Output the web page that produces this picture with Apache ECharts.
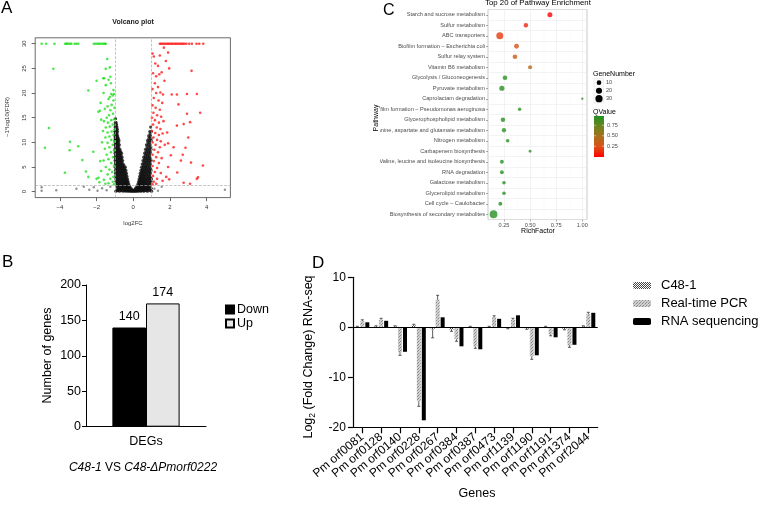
<!DOCTYPE html>
<html><head><meta charset="utf-8">
<script src="https://cdn.jsdelivr.net/npm/echarts@6/dist/echarts.min.js"></script>
<style>
html,body{margin:0;padding:0;background:#fff;width:760px;height:509px;overflow:hidden}
.p{position:absolute}
</style></head><body>
<div id="a" class="p" style="left:0;top:0;width:380px;height:240px"></div>
<div id="c" class="p" style="left:380px;top:0;width:380px;height:245px"></div>
<div id="b" class="p" style="left:0;top:240px;width:300px;height:269px"></div>
<div id="d" class="p" style="left:300px;top:240px;width:460px;height:269px"></div>
<script>
const F = "'Liberation Sans', Arial, sans-serif";

// ---------- Panel A: volcano ----------
const volcanoXTicks = [-4, -2, 0, 2, 4];
const volcanoYTicks = [0, 5, 10, 15, 20, 25, 30];
const greenPts = [
  [-5.0,30],[-4.75,30],[-4.3,30],[-3.72,30],[-3.65,30],[-3.6,30],[-3.55,30],[-3.45,30],[-3.38,30],[-3.2,30],[-3.1,30],[-3.0,30],
  [-2.15,30],[-2.05,30],[-1.95,30],[-1.88,30],[-1.8,30],[-1.7,30],[-1.62,30],[-1.55,30],[-1.5,30],
  [-4.36,24.9],[-4.6,12.9],[-4.82,8.9],[-3.45,10.1],[-3.47,8.4],[-3.0,9.2],[-2.45,20.5],[-2.78,6.4],[-2.58,4.1],[-3.73,3.85],
  [-2.45,3.0],[-2.18,8.1],[-2.0,22.5],[-1.42,26.9],[-1.5,24.9],[-1.64,23.0],[-1.25,23.3],[-1.82,16.4],[-1.8,6.2],[-2.0,2.6],
  [-1.05,19.8],[-1.12,19.5],[-1.2,19.8],[-1.28,19.2],[-1.08,18.5],[-1.35,18.8],[-1.18,17.6],[-1.4,17.3],[-1.02,17.0],[-1.25,16.5],
  [-1.55,16.8],[-1.1,15.8],[-1.32,15.5],[-1.45,15.0],[-1.05,14.7],[-1.2,14.5],[-1.6,14.3],[-1.38,14.0],[-1.75,14.6],[-1.12,13.6],
  [-1.28,13.2],[-1.5,13.0],[-1.02,12.6],[-1.18,12.2],[-1.4,12.0],[-1.65,12.3],[-1.08,11.5],[-1.3,11.2],[-1.52,11.0],[-1.2,10.5],
  [-1.02,10.2],[-1.4,9.9],[-1.7,10.0],[-1.12,9.5],[-1.3,9.0],[-1.55,8.7],[-1.05,8.4],[-1.22,8.0],[-1.45,7.5],[-1.1,7.0],
  [-1.35,6.6],[-1.62,6.3],[-1.2,5.8],[-1.05,5.2],[-1.5,5.0],[-1.3,4.5],[-1.15,4.0],[-1.75,4.2],[-1.4,3.5],[-1.08,3.0],
  [-1.25,2.6],[-1.6,2.4],[-1.9,2.8],[-1.12,2.0],[-1.35,1.7],[-1.05,1.5],[-1.52,1.6],[-1.85,1.9],[-1.22,22.0],[-1.35,22.7],
  [-1.5,21.6],[-1.08,20.6],[-1.62,20.0],[-1.78,18.0],[-1.9,16.2],[-1.58,23.0],[-1.28,25.2]
];
const redPts = [
  [1.45,30],[1.52,30],[1.6,30],[1.67,30],[1.75,30],[1.82,30],[1.9,30],[1.97,30],[2.05,30],[2.12,30],[2.2,30],[2.28,30],[2.35,30],
  [2.42,30],[2.5,30],[2.58,30],[2.65,30],[2.72,30],[2.8,30],[2.9,30],[3.05,30],[3.2,30],[3.45,30],[3.6,30],[3.82,30],
  [1.67,29.2],[1.9,28.2],[1.45,27.6],[1.96,25.0],[3.18,24.5],[2.1,19.7],[2.38,19.7],[2.93,19.8],[3.47,19.8],[2.47,17.7],
  [2.93,15.8],[3.65,16.0],[2.38,13.4],[2.75,13.7],[3.1,14.1],[1.9,9.8],[2.05,7.4],[2.7,7.5],[2.6,6.3],[3.15,5.9],[3.8,5.3],
  [3.1,1.6],[3.47,2.6],[3.53,2.9],[1.96,2.5],[2.4,3.9],[2.75,1.8],[2.2,9.0],[2.85,8.9],[3.0,11.0],
  [1.05,28.0],[1.12,27.4],[1.2,26.0],[1.35,25.5],[1.08,24.0],[1.25,23.4],[1.42,23.8],[1.55,24.2],[1.18,22.0],[1.35,21.2],
  [1.05,20.8],[1.25,20.0],[1.48,20.1],[1.62,19.7],[1.12,19.0],[1.38,18.5],[1.58,18.0],[1.05,17.5],[1.22,17.0],[1.45,16.6],
  [1.1,16.0],[1.3,15.5],[1.52,15.2],[1.02,15.0],[1.18,14.5],[1.4,14.0],[1.65,14.3],[1.08,13.6],[1.28,13.0],[1.48,12.7],
  [1.02,12.3],[1.2,11.9],[1.4,11.5],[1.6,11.8],[1.1,11.0],[1.3,10.5],[1.5,10.2],[1.05,10.0],[1.22,9.5],[1.45,9.0],
  [1.15,8.5],[1.35,8.0],[1.05,7.5],[1.25,7.0],[1.55,6.8],[1.12,6.2],[1.4,5.8],[1.05,5.2],[1.3,4.8],[1.18,4.0],
  [1.5,3.8],[1.08,3.2],[1.3,2.6],[1.12,2.0],[1.6,2.2],[1.05,1.5],[1.25,1.6],[1.78,26.5],[1.7,22.5],[1.85,12.0],
  [1.72,9.5],[1.9,5.0],[1.8,3.0]
];
const blackRows = [
  [0.1,[-0.95,-0.75,-0.55,-0.4,-0.28,-0.18,-0.1,-0.03,0.04,0.11,0.19,0.29,0.42,0.58,0.78,1.0]],
  [0.2,[-0.85,-0.65,-0.47,-0.33,-0.21,-0.12,-0.04,0.03,0.1,0.18,0.27,0.39,0.55,0.72,0.95]],
  [0.3,[-0.88,-0.68,-0.5,-0.36,-0.24,-0.14,-0.06,0.06,0.14,0.24,0.36,0.5,0.68,0.9]],
  [0.42,[-0.78,-0.6,-0.45,-0.33,-0.22,-0.13,0.13,0.22,0.33,0.45,0.6,0.78]],
  [0.55,[-0.82,-0.66,-0.52,-0.4,-0.29,-0.19,-0.1,0.1,0.19,0.29,0.4,0.52,0.66,0.84]],
  [0.7,[-0.8,-0.65,-0.52,-0.4,-0.3,-0.2,0.2,0.3,0.4,0.52,0.65,0.8,0.98]],
  [0.85,[-0.86,-0.72,-0.58,-0.46,-0.35,-0.25,-0.16,0.16,0.25,0.35,0.46,0.58,0.72,0.88]],
  [1.02,[-0.83,-0.69,-0.56,-0.45,-0.35,-0.26,0.26,0.35,0.45,0.56,0.69,0.84]],
  [1.2,[-0.9,-0.76,-0.63,-0.51,-0.4,-0.3,-0.21,0.21,0.3,0.4,0.51,0.63,0.76,0.92]],
  [1.4,[-0.85,-0.72,-0.6,-0.49,-0.39,-0.29,0.3,0.4,0.5,0.61,0.73,0.87]],
  [1.6,[-0.92,-0.79,-0.67,-0.55,-0.44,-0.34,-0.25,0.26,0.35,0.45,0.56,0.68,0.8,0.95]],
  [1.82,[-0.87,-0.75,-0.63,-0.52,-0.42,-0.32,0.33,0.43,0.53,0.64,0.76,0.9]],
  [2.05,[-0.94,-0.82,-0.7,-0.58,-0.47,-0.37,-0.28,0.29,0.38,0.48,0.59,0.71,0.84,0.97]],
  [2.3,[-0.89,-0.77,-0.66,-0.55,-0.45,-0.35,0.36,0.46,0.57,0.68,0.8,0.93]],
  [2.55,[-0.95,-0.83,-0.72,-0.61,-0.5,-0.4,-0.31,0.32,0.41,0.51,0.62,0.74,0.87,0.99]],
  [2.82,[-0.9,-0.79,-0.68,-0.58,-0.48,-0.38,0.39,0.5,0.6,0.72,0.84,0.96]],
  [3.1,[-0.96,-0.85,-0.74,-0.63,-0.53,-0.43,-0.34,0.35,0.45,0.55,0.66,0.78,0.9]],
  [3.4,[-0.91,-0.81,-0.7,-0.6,-0.51,-0.41,0.42,0.52,0.63,0.75,0.87]],
  [3.7,[-0.97,-0.86,-0.76,-0.66,-0.56,-0.46,-0.37,0.38,0.48,0.59,0.7,0.82,0.94]],
  [4.0,[-0.92,-0.82,-0.72,-0.63,-0.53,-0.44,0.46,0.56,0.67,0.79,0.91]],
  [4.3,[-0.97,-0.87,-0.77,-0.68,-0.58,-0.49,-0.4,0.42,0.52,0.63,0.74,0.86,0.97]],
  [4.62,[-0.93,-0.83,-0.74,-0.65,-0.56,-0.47,0.5,0.6,0.71,0.83,0.95]],
  [4.95,[-0.98,-0.88,-0.79,-0.7,-0.61,-0.52,-0.43,0.45,0.56,0.67,0.78,0.9]],
  [5.28,[-0.94,-0.85,-0.76,-0.67,-0.59,-0.5,0.54,0.65,0.76,0.88]],
  [5.6,[-0.98,-0.89,-0.8,-0.72,-0.63,-0.55,0.49,0.6,0.71,0.82,0.94]],
  [5.95,[-0.95,-0.86,-0.78,-0.7,-0.62,0.58,0.69,0.8,0.92]],
  [6.3,[-0.99,-0.9,-0.82,-0.74,-0.66,-0.58,0.53,0.64,0.75,0.86,0.97]],
  [6.65,[-0.96,-0.87,-0.79,-0.72,-0.64,0.62,0.73,0.84,0.95]],
  [7.0,[-0.99,-0.91,-0.83,-0.76,-0.68,-0.61,0.57,0.68,0.79,0.9]],
  [7.4,[-0.96,-0.88,-0.81,-0.74,-0.67,0.66,0.77,0.88]],
  [7.8,[-0.99,-0.92,-0.85,-0.78,-0.71,-0.64,0.62,0.72,0.83,0.94]],
  [8.2,[-0.97,-0.9,-0.83,-0.76,-0.7,0.7,0.81,0.92]],
  [8.6,[-1.0,-0.93,-0.86,-0.8,-0.73,0.67,0.77,0.87,0.97]],
  [9.05,[-0.97,-0.91,-0.85,-0.79,0.75,0.86,0.96]],
  [9.5,[-1.0,-0.94,-0.88,-0.82,-0.76,0.72,0.82,0.92]],
  [9.95,[-0.98,-0.92,-0.86,-0.8,0.8,0.9]],
  [10.4,[-1.0,-0.95,-0.89,-0.84,-0.78,0.78,0.88,0.98]],
  [10.85,[-0.98,-0.92,-0.87,-0.82,0.86,0.96]],
  [11.3,[-1.0,-0.95,-0.9,-0.85,0.84,0.94]],
  [11.75,[-0.98,-0.93,-0.88,0.92]],
  [12.2,[-1.0,-0.96,-0.91,-0.86,0.9,0.99]],
  [12.65,[-0.97,-0.92,-0.87]],
  [13.1,[-0.99,-0.94,-0.89,0.95]],
  [13.55,[-0.96,-0.91]],
  [14.0,[-0.98,-0.93]],
  [14.8,[-0.97]]
];
const grayPts = [[-5.0,0.9],[-5.0,0.2],[5.0,0.4],[-4.2,0.3],[-3.1,0.6],[-2.7,1.0],[-2.4,0.4],[-2.15,0.9],[-1.95,0.2],
  [-1.7,0.7],[-1.45,0.3],[-1.25,1.0],[1.15,0.6],[1.35,0.2],[1.55,1.0]];
const blackPts = [];
blackRows.forEach(r => r[1].forEach(x => blackPts.push([x, r[0]])));

const chartA = echarts.init(document.getElementById('a'), null, {renderer:'canvas'});
chartA.setOption({
  animation:false,
  textStyle:{fontFamily:F},
  grid:{left:35.2, top:37.8, width:195.2, height:159.8, show:true, borderColor:'#444', borderWidth:0.8, backgroundColor:'transparent', containLabel:false, outerBoundsMode:'none'},
  xAxis:{type:'value', min:-5.35, max:5.3, axisLine:{show:false, onZero:false}, splitLine:{show:false},
    axisTick:{show:true, inside:false, length:3.5, lineStyle:{color:'#444', width:0.8}, customValues:volcanoXTicks},
    axisLabel:{customValues:volcanoXTicks, fontSize:6, color:'#333', margin:7, formatter:v => v < 0 ? '\u2212' + (-v) : String(v)}},
  yAxis:{type:'value', min:-1.2, max:31.2, axisLine:{show:false, onZero:false}, splitLine:{show:false},
    axisTick:{show:true, length:3.5, lineStyle:{color:'#444', width:0.8}, customValues:volcanoYTicks},
    axisLabel:{customValues:volcanoYTicks, fontSize:6, color:'#333', margin:8, rotate:90}},
  series:[
    {type:'scatter', data:blackPts, symbolSize:3.2, itemStyle:{color:'#111'}, silent:true,
     markLine:{silent:true, symbol:'none', label:{show:false}, lineStyle:{type:'dashed', color:'#aaa', width:0.7},
       data:[{xAxis:-1},{xAxis:1},{yAxis:1.3}]}},
    {type:'scatter', data:grayPts, symbolSize:2.4, itemStyle:{color:'#777'}, silent:true},
    {type:'scatter', data:greenPts, symbolSize:2.6, itemStyle:{color:'#22e022'}, silent:true},
    {type:'scatter', data:redPts, symbolSize:2.6, itemStyle:{color:'#ff1a1a'}, silent:true}
  ],
  graphic:[
    {type:'text', x:1, y:0, style:{text:'A', fontSize:17, fontFamily:F, fill:'#000'}},
    {type:'text', x:133, y:22.5, style:{text:'Volcano plot', fontSize:7, fontWeight:'bold', fontFamily:F, fill:'#222', align:'center', verticalAlign:'middle'}},
    {type:'text', x:133, y:223, style:{text:'log2FC', fontSize:6, fontFamily:F, fill:'#333', align:'center', verticalAlign:'middle'}},
    {type:'text', x:7, y:117, rotation:Math.PI/2, style:{text:'\u22121*log10(FDR)', fontSize:6, fontFamily:F, fill:'#333', align:'center', verticalAlign:'middle'}},
    {type:'text', x:376, y:118, rotation:Math.PI/2, style:{text:'Pathway', fontSize:7, fontFamily:F, fill:'#000', align:'center', verticalAlign:'middle'}}
  ]
});

// ---------- Panel C: pathway enrichment ----------
const pathways = ['Starch and sucrose metabolism','Sulfur metabolism','ABC transporters','Biofilm formation \u2013 Escherichia coli',
  'Sulfur relay system','Vitamin B6 metabolism','Glycolysis / Gluconeogenesis','Pyruvate metabolism','Caprolactam degradation',
  'Biofilm formation \u2013 Pseudomonas aeruginosa','Glycerophospholipid metabolism','Alanine, aspartate and glutamate metabolism',
  'Nitrogen metabolism','Carbapenem biosynthesis','Valine, leucine and isoleucine biosynthesis','RNA degradation',
  'Galactose metabolism','Glycerolipid metabolism','Cell cycle \u2013 Caulobacter','Biosynthesis of secondary metabolites'];
const richFactor = [0.69,0.46,0.21,0.37,0.355,0.50,0.26,0.23,1.0,0.40,0.24,0.25,0.285,0.50,0.23,0.23,0.25,0.25,0.215,0.15];
const geneNumber = [12,9,28,11,10,7,10,13,1,4,9,8,5,2,6,6,5,5,6,36];
const qValue = [0.0,0.12,0.18,0.28,0.33,0.42,0.97,0.97,0.98,0.98,0.98,0.98,0.98,0.98,0.98,0.98,0.98,0.98,0.98,0.98];
const richTicks = [0.25, 0.5, 0.75, 1.0];
const richMinor = [0.125, 0.375, 0.625, 0.875];
const sizeLegend = [10, 20, 30];
const qLegend = [0.75, 0.50, 0.25];
const qColors = ['#ff0000','#dc5016','#a8701c','#6a8420','#229122'];
const dia = n => 1.2 + 1.1 * Math.sqrt(n);

const chartC = echarts.init(document.getElementById('c'));
const cGraphic = [
  {type:'text', x:3, y:3, style:{text:'C', fontSize:16, fontFamily:F, fill:'#000'}},
  {type:'text', x:158, y:2.5, style:{text:'Top 20 of Pathway Enrichment', fontSize:7.8, fontFamily:F, fill:'#000', align:'center', verticalAlign:'middle'}},
  {type:'text', x:158, y:231, style:{text:'RichFactor', fontSize:7, fontFamily:F, fill:'#000', align:'center', verticalAlign:'middle'}},
  {type:'text', x:213, y:74, style:{text:'GeneNumber', fontSize:7, fontFamily:F, fill:'#000', verticalAlign:'middle'}},
  {type:'rect', shape:{x:214, y:78.5, width:9.5, height:24.5}, style:{fill:'#fafafa', stroke:'#e0e0e0', lineWidth:0.5}},
  {type:'text', x:213, y:111.7, style:{text:'QValue', fontSize:7, fontFamily:F, fill:'#000', verticalAlign:'middle'}},
  {type:'rect', shape:{x:214, y:116, width:10, height:41},
   style:{fill:{type:'linear', x:0, y:1, x2:0, y2:0, colorStops:qColors.map((c,i)=>({offset:i/(qColors.length-1), color:c}))}}}
];
sizeLegend.forEach((n, i) => {
  const cy = 82.7 + 8 * i;
  cGraphic.push({type:'circle', shape:{cx:219, cy:cy, r:dia(n)/2}, style:{fill:'#000'}});
  cGraphic.push({type:'text', x:226, y:cy, style:{text:String(n), fontSize:5.6, fontFamily:F, fill:'#4d4d4d', verticalAlign:'middle'}});
});
qLegend.forEach(q => {
  const cy = 156.7 - q * 41.9;
  cGraphic.push({type:'text', x:227, y:cy, style:{text:q.toFixed(2), fontSize:5.6, fontFamily:F, fill:'#4d4d4d', verticalAlign:'middle'}});
  cGraphic.push({type:'line', shape:{x1:214, y1:cy, x2:216, y2:cy}, style:{stroke:'#fff', lineWidth:0.5}});
  cGraphic.push({type:'line', shape:{x1:222, y1:cy, x2:224, y2:cy}, style:{stroke:'#fff', lineWidth:0.5}});
});
chartC.setOption({
  animation:false,
  textStyle:{fontFamily:F},
  grid:{left:108, top:9.5, width:99, height:210, show:true, borderColor:'#bbb', borderWidth:0.8, containLabel:false, outerBoundsMode:'none'},
  xAxis:{type:'value', min:0.097, max:1.045, axisLine:{show:false, onZero:false}, splitLine:{show:false},
    axisTick:{show:true, length:2, lineStyle:{color:'#555', width:0.5}, customValues:richTicks},
    axisLabel:{customValues:richTicks, fontSize:5.6, color:'#4d4d4d', margin:2.5, formatter:v => v.toFixed(2)}},
  yAxis:{type:'category', data:pathways, inverse:true, boundaryGap:true, axisLine:{show:false, onZero:false},
    axisTick:{show:true, alignWithLabel:true, length:2, lineStyle:{color:'#555', width:0.5}},
    axisLabel:{fontSize:5.6, color:'#4d4d4d', margin:3, interval:0},
    splitLine:{show:true, lineStyle:{color:'#ebebeb', width:0.6}}},
  visualMap:{show:false, type:'continuous', dimension:3, min:0, max:1, seriesIndex:0, inRange:{color:qColors}},
  series:[
    {type:'scatter', data:pathways.map((p,i)=>[richFactor[i], p, geneNumber[i], qValue[i]]),
     symbolSize:d => dia(d[2]), silent:true, z:5,
     markLine:{silent:true, symbol:'none', label:{show:false}, z:1,
       data:richTicks.map(v=>({xAxis:v, lineStyle:{color:'#ebebeb', width:0.6, type:'solid'}}))
        .concat(richMinor.map(v=>({xAxis:v, lineStyle:{color:'#f4f4f4', width:0.4, type:'solid'}})))}}
  ],
  graphic:cGraphic
});

// ---------- Panel B: DEG counts ----------
const degCategories = ['DEGs'];
const downCount = [140];
const upCount = [174];
const chartB = echarts.init(document.getElementById('b'));
chartB.setOption({
  animation:false,
  textStyle:{fontFamily:F},
  grid:{left:86, top:45, width:120, height:141.7, containLabel:false, outerBoundsMode:'none'},
  legend:{orient:'vertical', left:225, top:63, itemWidth:8, itemHeight:8, itemGap:1, padding:0,
    textStyle:{fontSize:12.5, color:'#000', padding:[0,0,0,-2]}, data:['Down','Up'], icon:'rect'},
  xAxis:{type:'category', data:degCategories, axisLine:{lineStyle:{color:'#000', width:1}}, axisTick:{show:false},
    axisLabel:{fontSize:12.5, color:'#000', margin:8}},
  yAxis:{type:'value', min:0, max:200, interval:50, splitLine:{show:false},
    axisLine:{show:true, lineStyle:{color:'#000', width:1}},
    axisTick:{show:true, length:4, lineStyle:{color:'#000'}},
    axisLabel:{fontSize:12.5, color:'#000', margin:5}},
  series:[
    {name:'Down', type:'bar', data:downCount, barWidth:33.6, barGap:'0%', itemStyle:{color:'#000', borderColor:'#000', borderWidth:1},
     label:{show:true, position:'top', fontSize:12.5, color:'#000', distance:4}},
    {name:'Up', type:'bar', data:upCount, barWidth:33.6, itemStyle:{color:'#e6e6e6', borderColor:'#000', borderWidth:1},
     label:{show:true, position:'top', fontSize:12.5, color:'#000', distance:4}}
  ],
  graphic:[
    {type:'text', x:2, y:14, style:{text:'B', fontSize:17, fontFamily:F, fill:'#000'}},
    {type:'text', x:48, y:115.5, rotation:Math.PI/2, style:{text:'Number of genes', fontSize:12.5, fontFamily:F, fill:'#000', align:'center', verticalAlign:'middle'}},
    {type:'text', x:143, y:228, style:{text:'{i|C48-1} VS {i|C48-\u0394Pmorf0222}', fontSize:12, fontFamily:F, fill:'#000', align:'center', verticalAlign:'middle',
      rich:{i:{fontStyle:'italic', fontSize:12, fontFamily:F}}}}
  ]
});

// ---------- Panel D: qPCR vs RNA-seq ----------
const genes = ['Pm orf0081','Pm orf0128','Pm orf0140','Pm orf0228','Pm orf0267','Pm orf0384','Pm orf0387',
  'Pm orf0473','Pm orf1139','Pm orf1190','Pm orf1191','Pm orf1374','Pm orf2044'];
const c481 = [0.1, 0.2, 0.2, 0.4, -0.4, -0.5, 0.1, 0.1, -0.2, -0.3, 0.1, -0.4, 0.2];
const c481Err = [0.1, 0.1, 0.1, 0.2, 1.7, 0.3, 0.1, 0.1, 0.1, 0.1, 0.1, 0.1, 0.1];
const rtPCR = [1.2, 1.5, -5.0, -14.8, 5.5, -2.4, -3.8, 2.0, 1.5, -5.8, -1.4, -3.6, 2.6];
const rtPCRErr = [0.3, 0.3, 0.6, 1.0, 0.9, 0.4, 0.4, 0.3, 0.3, 0.6, 0.3, 0.4, 0.4];
const rnaSeq = [1.0, 1.3, -4.9, -18.6, 2.0, -3.8, -4.4, 1.7, 2.4, -5.6, -2.0, -3.5, 2.9];

function pattern(w, h, draw) {
  const cv = document.createElement('canvas'); cv.width = w; cv.height = h;
  draw(cv.getContext('2d')); return {image:cv, repeat:'repeat'};
}
const checker = pattern(2, 2, g => { g.fillStyle = '#fff'; g.fillRect(0,0,2,2); g.fillStyle = '#444'; g.fillRect(0,0,1,1); g.fillRect(1,1,1,1); });
const dotted = pattern(3, 3, g => { g.fillStyle = '#d0d0d0'; g.fillRect(0,0,3,3); g.fillStyle = '#8a8a8a'; g.fillRect(0,0,1,1); g.fillRect(1,2,1,1); g.fillStyle='#b0b0b0'; g.fillRect(2,1,1,1); });

function errSeries(vals, errs, offset) {
  return {type:'custom', silent:true, z:5, encode:{x:0, y:1},
    data:vals.map((v,i)=>[i, v, errs[i]]),
    renderItem:(params, api) => {
      const i = api.value(0), v = api.value(1), e = api.value(2);
      const end = v >= 0 ? v + e : v - e;
      const p0 = api.coord([i, v]), p1 = api.coord([i, end]);
      const x = p0[0] + offset;
      return {type:'group', children:[
        {type:'line', shape:{x1:x, y1:p0[1], x2:x, y2:p1[1]}, style:{stroke:'#333', lineWidth:0.8}},
        {type:'line', shape:{x1:x-1.5, y1:p1[1], x2:x+1.5, y2:p1[1]}, style:{stroke:'#333', lineWidth:0.8}}
      ]};
    }};
}
const chartD = echarts.init(document.getElementById('d'));
chartD.setOption({
  animation:false,
  textStyle:{fontFamily:F},
  grid:{left:52.9, top:37.3, width:244.8, height:150, containLabel:false, outerBoundsMode:'none'},
  legend:{orient:'vertical', left:333, top:39, itemWidth:18, itemHeight:7, itemGap:5, padding:0,
    textStyle:{fontSize:13, color:'#000', padding:[0,0,0,5]}, data:['C48-1','Real-time PCR','RNA sequencing']},
  xAxis:{type:'category', data:genes, axisLine:{onZero:false, lineStyle:{color:'#000', width:1.2}},
    axisTick:{show:true, alignWithLabel:true, length:6, lineStyle:{color:'#000', width:1.2}},
    axisLabel:{rotate:40, fontSize:12, color:'#000', margin:8, interval:0}},
  yAxis:{type:'value', min:-20, max:10, interval:10, splitLine:{show:false},
    axisLine:{show:true, onZero:false, lineStyle:{color:'#000', width:1.2}},
    axisTick:{show:true, length:5, lineStyle:{color:'#000', width:1.2}},
    axisLabel:{fontSize:12, color:'#000', margin:7}},
  series:[
    {name:'C48-1', type:'bar', data:c481, barWidth:4, barGap:'25%', itemStyle:{color:checker}},
    {name:'Real-time PCR', type:'bar', data:rtPCR, barWidth:4, barGap:'25%', itemStyle:{color:dotted}},
    {name:'RNA sequencing', type:'bar', data:rnaSeq, barWidth:4, barGap:'25%', itemStyle:{color:'#000'},
     markLine:{silent:true, symbol:'none', label:{show:false}, lineStyle:{color:'#000', width:1.2, type:'solid'}, data:[{yAxis:0}]}},
    errSeries(c481, c481Err, -5),
    errSeries(rtPCR, rtPCRErr, 0)
  ],
  graphic:[
    {type:'text', x:12, y:15, style:{text:'D', fontSize:17, fontFamily:F, fill:'#000'}},
    {type:'text', x:177, y:254, style:{text:'Genes', fontSize:12.5, fontFamily:F, fill:'#000', align:'center', verticalAlign:'middle'}},
    {type:'text', x:9, y:117, rotation:Math.PI/2, style:{text:'{a|Log}{s|2}{a| (Fold Change) RNA-seq}', fontFamily:F, fill:'#000', align:'center', verticalAlign:'middle',
      rich:{a:{fontSize:12.5, fontFamily:F, lineHeight:16}, s:{fontSize:8.5, fontFamily:F, lineHeight:9, verticalAlign:'bottom'}}}}
  ]
});
</script>
</body></html>
